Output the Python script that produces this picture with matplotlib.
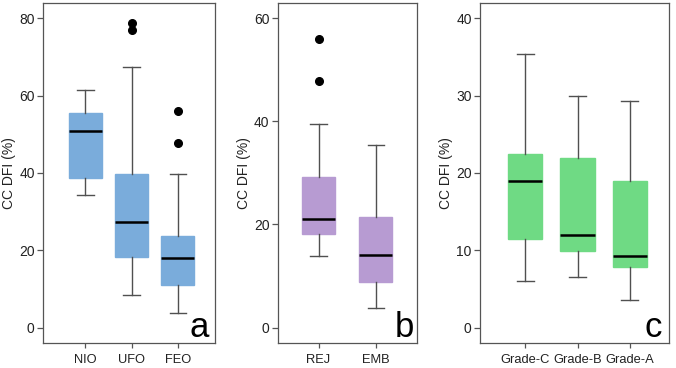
import matplotlib
matplotlib.use("Agg")
import matplotlib.pyplot as plt

plt.rcParams['font.family'] = ['Liberation Sans', 'DejaVu Sans']

# Panel a
cats_a = ["NIO", "UFO", "FEO"]
wlo_a = [34.3, 8.3, 3.8]
q1_a = [38.8, 18.2, 10.9]
med_a = [50.8, 27.3, 18.0]
q3_a = [55.6, 39.7, 23.8]
whi_a = [61.4, 67.3, 39.7]
fl_a = [[], [77.0, 78.8], [47.8, 56.0]]

# Panel b
cats_b = ["REJ", "EMB"]
wlo_b = [13.8, 3.7]
q1_b = [18.1, 8.9]
med_b = [21.1, 14.0]
q3_b = [29.2, 21.5]
whi_b = [39.6, 35.4]
fl_b = [[47.8, 56.0], []]

# Panel c
cats_c = ["Grade-C", "Grade-B", "Grade-A"]
wlo_c = [6.0, 6.6, 3.6]
q1_c = [11.4, 9.85, 7.8]
med_c = [19.0, 12.0, 9.3]
q3_c = [22.5, 21.9, 18.9]
whi_c = [35.4, 30.0, 29.3]
fl_c = [[], [], []]

fig = plt.figure(figsize=(6.76, 3.68), dpi=100)

def panel(rect, cats, wlo, q1, med, q3, whi, fl, color, ylim, yticks, xlim, width, letter, lx):
    ax = fig.add_axes(rect)
    stats = []
    for i in range(len(cats)):
        stats.append(dict(label=cats[i], whislo=wlo[i], q1=q1[i], med=med[i],
                          q3=q3[i], whishi=whi[i], fliers=fl[i]))
    ax.bxp(stats, positions=list(range(1, len(cats) + 1)), widths=width,
           patch_artist=True, showfliers=True,
           boxprops=dict(facecolor=color, edgecolor=color, linewidth=1.0),
           medianprops=dict(color='black', linewidth=1.8),
           whiskerprops=dict(color='#505050', linewidth=1.0),
           capprops=dict(color='#505050', linewidth=1.0),
           capwidths=width * 0.5,
           flierprops=dict(marker='o', markerfacecolor='black', markeredgecolor='black',
                           markersize=5.5))
    ax.set_ylim(*ylim)
    ax.set_xlim(*xlim)
    ax.set_yticks(yticks)
    ax.set_ylabel("CC DFI (%)", fontsize=10, color='#222222', labelpad=2)
    ax.tick_params(axis='y', labelsize=10, colors='#555555', labelcolor='#222222',
                   length=4.5, width=0.9, pad=1.5)
    ax.tick_params(axis='x', labelsize=9.3, colors='#555555', labelcolor='#222222',
                   length=3.5, width=0.9, pad=4.5)
    for s in ax.spines.values():
        s.set_color('#555555')
        s.set_linewidth(0.9)
    ax.text(lx, 0.018, letter, transform=ax.transAxes, ha='right', va='baseline',
            fontsize=25, color='black')
    return ax

panel([0.0636, 0.068, 0.254, 0.924], cats_a, wlo_a, q1_a, med_a, q3_a, whi_a, fl_a,
      '#7aacdb', (-4, 84), [0, 20, 40, 60, 80], (0.08, 3.8), 0.71, 'a', 0.965)
panel([0.411, 0.068, 0.206, 0.924], cats_b, wlo_b, q1_b, med_b, q3_b, whi_b, fl_b,
      '#b79bd2', (-3, 63), [0, 20, 40, 60], (0.29, 2.72), 0.58, 'b', 0.98)
panel([0.710, 0.068, 0.279, 0.924], cats_c, wlo_c, q1_c, med_c, q3_c, whi_c, fl_c,
      '#6fda84', (-2, 42), [0, 10, 20, 30, 40], (0.135, 3.74), 0.66, 'c', 0.965)

fig.savefig("out.png", dpi=100)
